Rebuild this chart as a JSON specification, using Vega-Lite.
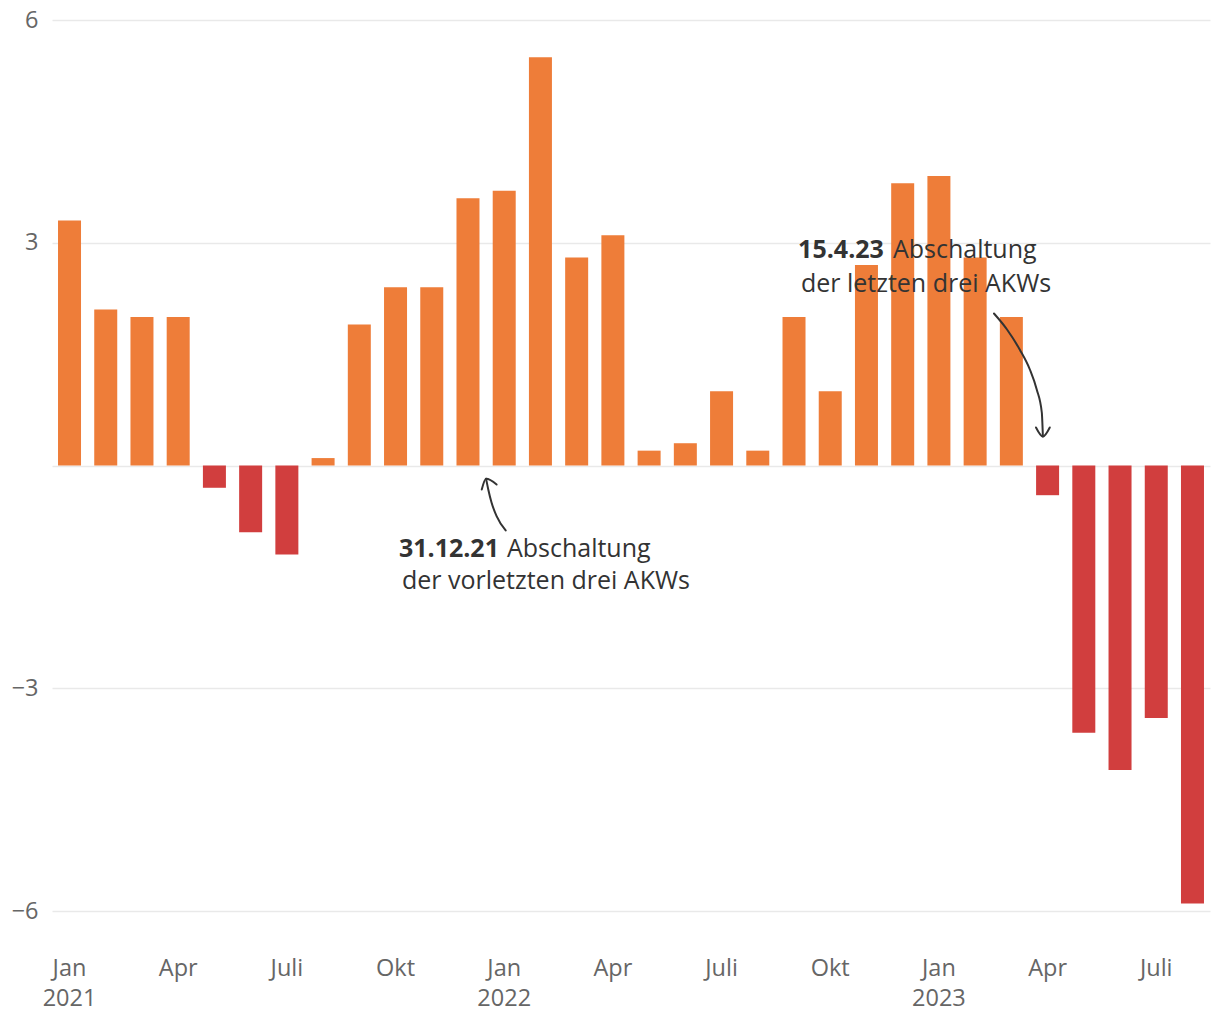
{
  "$schema": "https://vega.github.io/schema/vega-lite/v6.json",
  "width": 1158,
  "height": 891,
  "autosize": {"type": "none"},
  "padding": {"left": 52, "top": 20, "right": 10, "bottom": 109},
  "background": "#ffffff",
  "config": {
    "view": {"stroke": null},
    "font": "Open Sans",
    "axis": {"labelFont": "Open Sans", "labelColor": "#666666", "labelFontSize": 23.5, "domain": false, "ticks": false, "title": null}
  },
  "datasets": {
    "bars": [
      {"m": "2021-01", "v": 3.3}, {"m": "2021-02", "v": 2.1}, {"m": "2021-03", "v": 2.0}, {"m": "2021-04", "v": 2.0},
      {"m": "2021-05", "v": -0.3}, {"m": "2021-06", "v": -0.9}, {"m": "2021-07", "v": -1.2}, {"m": "2021-08", "v": 0.1},
      {"m": "2021-09", "v": 1.9}, {"m": "2021-10", "v": 2.4}, {"m": "2021-11", "v": 2.4}, {"m": "2021-12", "v": 3.6},
      {"m": "2022-01", "v": 3.7}, {"m": "2022-02", "v": 5.5}, {"m": "2022-03", "v": 2.8}, {"m": "2022-04", "v": 3.1},
      {"m": "2022-05", "v": 0.2}, {"m": "2022-06", "v": 0.3}, {"m": "2022-07", "v": 1.0}, {"m": "2022-08", "v": 0.2},
      {"m": "2022-09", "v": 2.0}, {"m": "2022-10", "v": 1.0}, {"m": "2022-11", "v": 2.7}, {"m": "2022-12", "v": 3.8},
      {"m": "2023-01", "v": 3.9}, {"m": "2023-02", "v": 2.8}, {"m": "2023-03", "v": 2.0}, {"m": "2023-04", "v": -0.4},
      {"m": "2023-05", "v": -3.6}, {"m": "2023-06", "v": -4.1}, {"m": "2023-07", "v": -3.4}, {"m": "2023-08", "v": -5.9}
    ],
    "arrows": [
      {"p": "a1", "o": 1, "xi": 12.04, "y": -0.875},
      {"p": "a1", "o": 2, "xi": 11.79, "y": -0.683},
      {"p": "a1", "o": 3, "xi": 11.65, "y": -0.498},
      {"p": "a1", "o": 4, "xi": 11.56, "y": -0.323},
      {"p": "a1", "o": 5, "xi": 11.50, "y": -0.179},
      {"p": "h1", "o": 1, "xi": 11.38, "y": -0.323},
      {"p": "h1", "o": 2, "xi": 11.50, "y": -0.179},
      {"p": "h1", "o": 3, "xi": 11.79, "y": -0.256},
      {"p": "a2", "o": 1, "xi": 25.52, "y": 2.047},
      {"p": "a2", "o": 2, "xi": 25.88, "y": 1.832},
      {"p": "a2", "o": 3, "xi": 26.23, "y": 1.562},
      {"p": "a2", "o": 4, "xi": 26.51, "y": 1.293},
      {"p": "a2", "o": 5, "xi": 26.70, "y": 1.024},
      {"p": "a2", "o": 6, "xi": 26.84, "y": 0.714},
      {"p": "a2", "o": 7, "xi": 26.87, "y": 0.391},
      {"p": "h2", "o": 1, "xi": 26.68, "y": 0.512},
      {"p": "h2", "o": 2, "xi": 26.87, "y": 0.391},
      {"p": "h2", "o": 3, "xi": 27.06, "y": 0.512}
    ],
    "boldText": [
      {"xi": 11.855, "y": -1.239, "t": "31.12.21"},
      {"xi": 22.48, "y": 2.788, "t": "15.4.23"}
    ],
    "plainText": [
      {"xi": 12.075, "y": -1.239, "t": "Abschaltung"},
      {"xi": 9.177, "y": -1.67, "t": "der vorletzten drei AKWs"},
      {"xi": 22.73, "y": 2.788, "t": "Abschaltung"},
      {"xi": 20.19, "y": 2.33, "t": "der letzten drei AKWs"}
    ]
  },
  "layer": [
    {
      "data": {"name": "bars"},
      "mark": {"type": "bar"},
      "encoding": {
        "x": {
          "field": "m", "type": "ordinal", "sort": null,
          "scale": {"paddingInner": 0.365, "paddingOuter": 0.166},
          "axis": {
            "labelAngle": 0, "labelPadding": 45, "labelLineHeight": 30, "labelBaseline": "top",
            "labelExpr": "slice(datum.value,5)=='01' ? ['Jan', slice(datum.value,0,4)] : slice(datum.value,5)=='04' ? 'Apr' : slice(datum.value,5)=='07' ? 'Juli' : slice(datum.value,5)=='10' ? 'Okt' : ''"
          }
        },
        "y": {
          "field": "v", "type": "quantitative",
          "scale": {"domain": [-6, 6], "nice": false, "zero": false},
          "axis": {
            "values": [-6, -3, 0, 3, 6], "grid": true, "gridColor": "#E9E9E9", "gridWidth": 1.5,
            "labelPadding": 14,
            "labelExpr": "datum.value == 0 ? '' : (datum.value < 0 ? '−' + abs(datum.value) : '' + datum.value)"
          }
        },
        "color": {"condition": {"test": "datum.v < 0", "value": "#D13E3E"}, "value": "#EE7D39"}
      }
    },
    {
      "encoding": {
        "x": {"field": "xi", "type": "quantitative", "scale": {"domain": [-0.483, 31.483], "nice": false, "zero": false}, "axis": null},
        "y": {"field": "y", "type": "quantitative"}
      },
      "layer": [
        {
          "data": {"name": "boldText"},
          "mark": {"type": "text", "align": "right", "baseline": "alphabetic", "fontSize": 25, "fontWeight": "bold", "color": "#333333"},
          "encoding": {"text": {"field": "t"}}
        },
        {
          "data": {"name": "plainText"},
          "mark": {"type": "text", "align": "left", "baseline": "alphabetic", "fontSize": 25, "color": "#333333"},
          "encoding": {"text": {"field": "t"}}
        },
        {
          "data": {"name": "arrows"},
          "mark": {"type": "line", "interpolate": "monotone", "color": "#333333", "strokeWidth": 2, "strokeCap": "round", "strokeJoin": "round"},
          "encoding": {
            "detail": {"field": "p"},
            "order": {"field": "o"}
          }
        }
      ]
    }
  ],
  "resolve": {"scale": {"x": "independent"}}
}
